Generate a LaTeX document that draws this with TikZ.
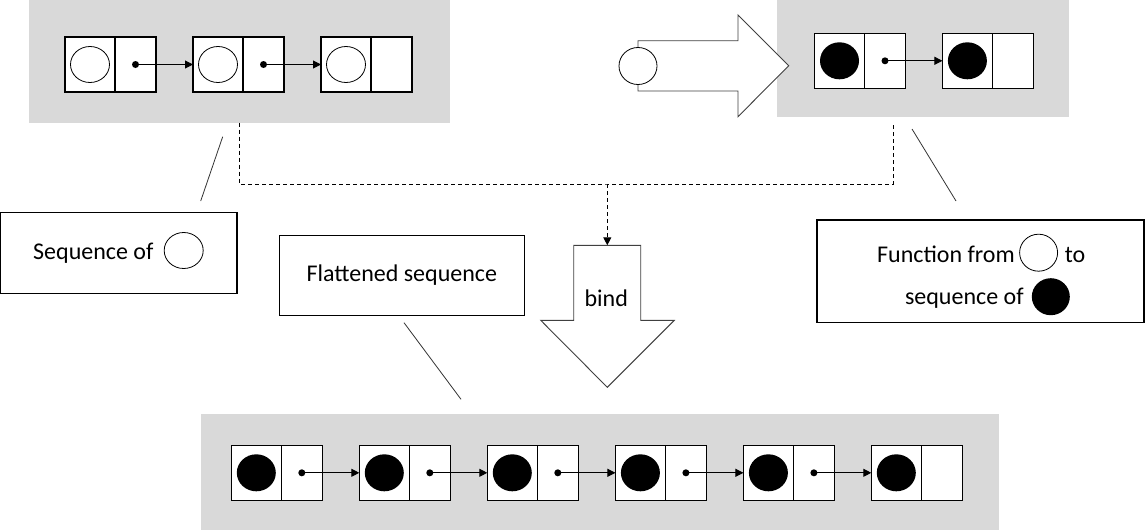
\documentclass[tikz,border=0pt]{standalone}
\usepackage{fontspec}
\setmainfont{Carlito}
\usetikzlibrary{arrows.meta,shapes.geometric}
\definecolor{panelgray}{HTML}{D9D9D9}
\newcommand\mkcell[4]{%
  \node[lbox, anchor=west] (#1L) at (#2,#3) {};
  \node[rbox, anchor=west] (#1R) at (#1L.east) {};
  \node[#4] (#1C) at (#1L.center) {};
}
\newcommand\mkptr[1]{\node[ptr] (#1P) at (#1R.center) {};}
\begin{document}
\begin{tikzpicture}[x=1pt,y=-1pt,
  panel/.style={fill=panelgray, draw=none, inner sep=0, outer sep=0},
  lbox/.style={draw, fill=white, line width=1.2pt, minimum width=50pt, minimum height=55pt, inner sep=0, outer sep=0},
  rbox/.style={draw, fill=white, line width=1.2pt, minimum width=41pt, minimum height=55pt, inner sep=0, outer sep=0},
  hollow/.style={ellipse, draw, line width=0.8pt, fill=white, minimum width=39pt, minimum height=36pt, inner sep=0},
  blackdot/.style={ellipse, fill=black, minimum width=39pt, minimum height=37pt, inner sep=0},
  ptr/.style={circle, fill=black, minimum size=7pt, inner sep=0, outer sep=0},
  link/.style={line width=1pt, -{Triangle[length=8pt,width=8pt]}},
  txtbox/.style={draw, line width=1.2pt, fill=white, inner sep=0, outer sep=0},
  lbl/.style={inner sep=0, font=\fontsize{24}{29}\selectfont},
  callout/.style={line width=0.8pt, draw=black!80},
  dashline/.style={line width=1pt, dash pattern=on 4pt off 3pt},
  bigarrow/.style={draw=black!75, line width=0.9pt, fill=white, line join=miter}
]
\useasboundingbox (0,0) rectangle (1145,530);

% gray panels
\node[panel, anchor=north west, minimum width=421pt, minimum height=122.5pt] (pTL) at (29,0) {};
\node[panel, anchor=north west, minimum width=291.5pt, minimum height=117pt] (pTR) at (777,0) {};
\node[panel, anchor=north west, minimum width=798pt, minimum height=116pt] (pB) at (201,414) {};

% top-left sequence of hollow circles
\mkcell{a1}{65}{64.5}{hollow}\mkptr{a1}
\mkcell{a2}{193}{64.5}{hollow}\mkptr{a2}
\mkcell{a3}{321}{64.5}{hollow}
\draw[link] (a1P.center) -- (a2L.west);
\draw[link] (a2P.center) -- (a3L.west);

% function arrow
\draw[bigarrow] (638,40.7) -- (738,40.7) -- (738,15) -- (788.7,65.7) -- (738,116.7) -- (738,91) -- (638,91) -- cycle;
\node[hollow, minimum width=38pt, minimum height=37pt] (fin) at (638,66) {};

% top-right sequence of black circles
\mkcell{b1}{814.5}{60.8}{blackdot}\mkptr{b1}
\mkcell{b2}{942.4}{60.8}{blackdot}
\draw[link] (b1P.center) -- (b2L.west);

% dashed connector to bind
\coordinate (dR) at (893,123);
\coordinate (dJ) at (607.3,184);
\coordinate (bindtop) at (607.3,245.3);
\draw[dashline] (pTL.south) |- (dJ) -| (dR);
\draw[dashline, -{Triangle[length=8pt,width=8pt]}] (dJ) -- (bindtop);

% bind arrow
\draw[bigarrow] (573.7,245.3) -- (640.7,245.3) -- (640.7,320.3) -- (674.3,320.3) -- (607.3,387.3) -- (540.7,320.3) -- (573.7,320.3) -- cycle;
\node[lbl, anchor=base] (bindtxt) at (606.3,306.7) {bind};

% sequence box
\node[txtbox, anchor=north west, minimum width=236.3pt, minimum height=81pt] (seqbox) at (0.7,212.3) {};
\node[lbl, anchor=base west] (seqtxt) at (33,259.3) {Sequence of};
\node[hollow] (seqC) at (183.7,250.5) {};
\coordinate (c1a) at (222.7,136.7);
\coordinate (c1b) at (200.7,201);
\draw[callout] (c1a) -- (c1b);

% flattened box
\node[txtbox, anchor=north west, minimum width=245pt, minimum height=79.6pt] (flatbox) at (279.3,235.7) {};
\node[lbl, anchor=base] (flattxt) at (401.8,281) {Flattened sequence};
\coordinate (c3a) at (404,322.7);
\coordinate (c3b) at (461,399.3);
\draw[callout] (c3a) -- (c3b);

% function box
\node[txtbox, anchor=north west, minimum width=327pt, minimum height=102.3pt] (funcbox) at (817,220) {};
\node[lbl, anchor=base west] (functxt) at (877,262.3) {Function from};
\node[hollow, minimum width=38pt, minimum height=37pt] (funcC) at (1038.6,252.7) {};
\node[lbl, anchor=base west] (totxt) at (1064.7,262.3) {to};
\node[lbl, anchor=base west] (seqoftxt) at (904.8,304.3) {sequence of};
\node[blackdot, minimum width=38pt, minimum height=37pt] (funcB) at (1050.8,296.7) {};
\coordinate (c2a) at (912,129);
\coordinate (c2b) at (956,201);
\draw[callout] (c2a) -- (c2b);

% bottom flattened sequence
\mkcell{d1}{231.3}{472.8}{blackdot}\mkptr{d1}
\mkcell{d2}{359.3}{472.8}{blackdot}\mkptr{d2}
\mkcell{d3}{487.3}{472.8}{blackdot}\mkptr{d3}
\mkcell{d4}{615.4}{472.8}{blackdot}\mkptr{d4}
\mkcell{d5}{743.4}{472.8}{blackdot}\mkptr{d5}
\mkcell{d6}{871.3}{472.8}{blackdot}
\draw[link] (d1P.center) -- (d2L.west);
\draw[link] (d2P.center) -- (d3L.west);
\draw[link] (d3P.center) -- (d4L.west);
\draw[link] (d4P.center) -- (d5L.west);
\draw[link] (d5P.center) -- (d6L.west);
\end{tikzpicture}
\end{document}
